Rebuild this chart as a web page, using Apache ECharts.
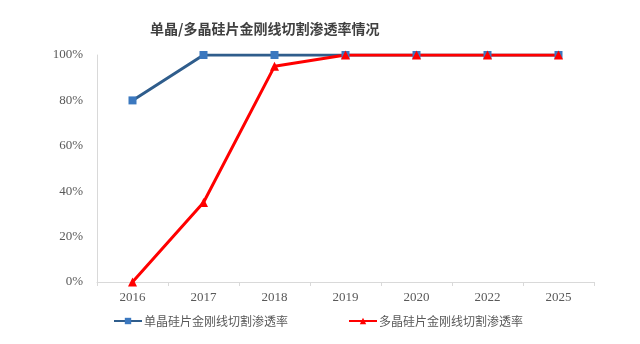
<!DOCTYPE html>
<html><head><meta charset="utf-8">
<script src="https://cdn.jsdelivr.net/npm/echarts@6/dist/echarts.min.js"></script>
<style>html,body{margin:0;padding:0;background:#fff}#c{width:640px;height:344px}</style>
</head><body><div id="c"></div>
<script>
const title = '单晶/多晶硅片金刚线切割渗透率情况';
const categories = ['2016','2017','2018','2019','2020','2022','2025'];
const monoName = '单晶硅片金刚线切割渗透率';
const monoValues = [0.80, 1.00, 1.00, 1.00, 1.00, 1.00, 1.00];
const polyName = '多晶硅片金刚线切割渗透率';
const polyValues = [0.00, 0.35, 0.95, 1.00, 1.00, 1.00, 1.00];

const chart = echarts.init(document.getElementById('c'), null, {renderer:'canvas'});
chart.setOption({
  animation: false,
  backgroundColor: '#fff',
  title: {
    text: title, left: 150, top: 22, padding: 0,
    textStyle: {fontFamily: 'Noto Sans CJK SC', fontSize: 14, fontWeight: 'bold', color: '#404040'}
  },
  legend: {
    left: 113, top: 315, padding: 0, itemWidth: 28, itemHeight: 8, itemGap: 60,
    textStyle: {fontFamily: 'Noto Sans CJK SC', fontSize: 12, color: '#595959', padding: [0,0,0,-3]},
    data: [monoName, polyName]
  },
  grid: {left: 97, right: 46, top: 55, bottom: 62, containLabel: false},
  xAxis: {
    type: 'category', data: categories, boundaryGap: true,
    axisLine: {lineStyle: {color: '#d9d9d9'}},
    axisTick: {show: true, length: 4, lineStyle: {color: '#d9d9d9'}},
    axisLabel: {fontFamily: 'Liberation Serif', fontSize: 13, color: '#595959', margin: 9}
  },
  yAxis: {
    type: 'value', min: 0, max: 1, interval: 0.2,
    axisLine: {show: true, lineStyle: {color: '#d9d9d9'}},
    axisTick: {show: false},
    splitLine: {show: false},
    axisLabel: {fontFamily: 'Liberation Serif', fontSize: 13, color: '#595959', margin: 14,
      formatter: v => Math.round(v*100) + '%'}
  },
  series: [
    {name: monoName, type: 'line', data: monoValues, symbol: 'rect', symbolSize: 8,
     lineStyle: {color: '#2f5d8c', width: 3}, itemStyle: {color: '#3b78bf'}},
    {name: polyName, type: 'line', data: polyValues, symbol: 'triangle', symbolSize: 9,
     lineStyle: {color: '#ff0000', width: 3}, itemStyle: {color: '#ff0000'}}
  ]
});
</script></body></html>
